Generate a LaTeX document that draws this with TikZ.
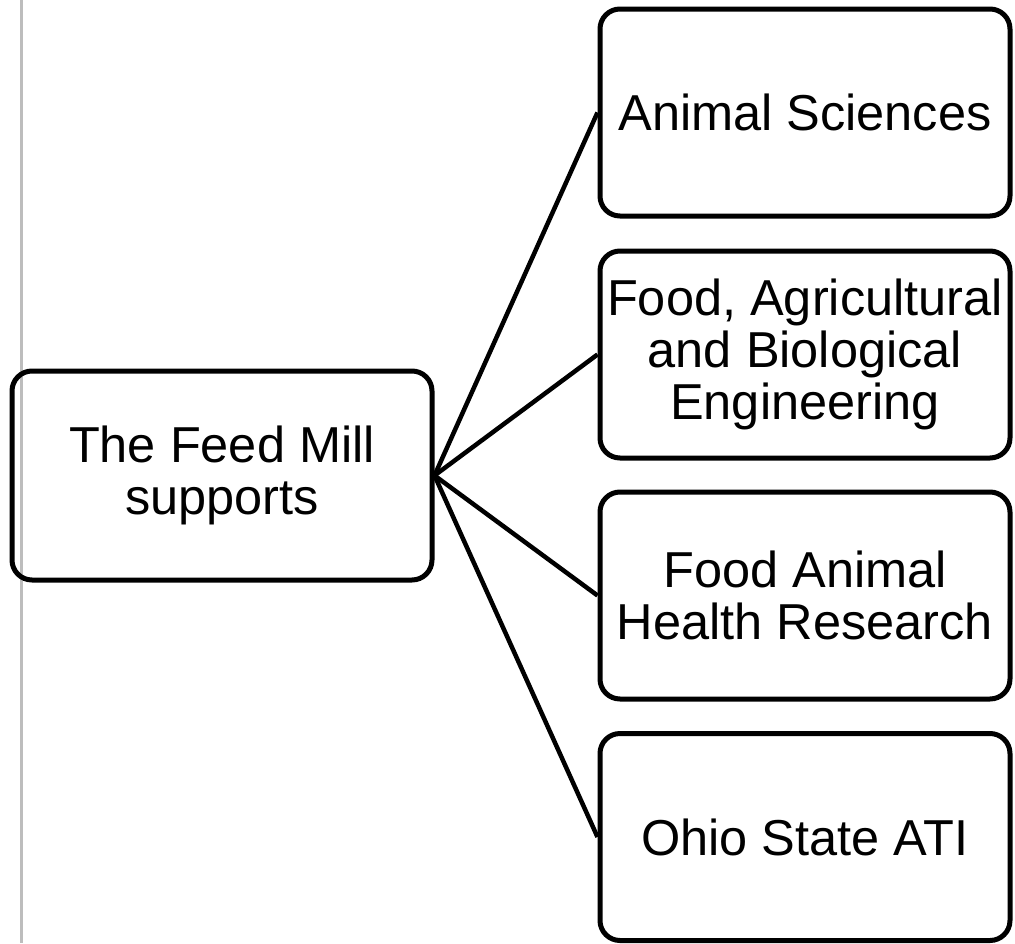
\documentclass[tikz,border=0pt]{standalone}
\usepackage{fontspec}
\setmainfont{Liberation Sans}
\usepackage{tikz}

\begin{document}
\begin{tikzpicture}[x=1pt,y=-1pt,
			unitbox/.style={draw,line width=5pt,rounded corners=20pt,align=center,
				font=\fontsize{50.5}{52}\selectfont,inner sep=0pt},
			link/.style={line width=4.5pt}]
			\useasboundingbox[fill=white] (0,0) rectangle (1015,943);
			\draw[line width=3pt,color={rgb,255:red,189;green,189;blue,189}] (21.5,0) -- (21.5,943);

			\node[unitbox,minimum width=420pt,minimum height=209pt] (mill) at (222,475.5) {The Feed Mill\\supports};

			\node[unitbox,minimum width=410pt,minimum height=207pt] (anisci) at (805,112.5) {Animal Sciences};
			\node[unitbox,minimum width=410pt,minimum height=207pt] (fabe) at (805,354.5) {Food, Agricultural\\and Biological\\Engineering};
			\node[unitbox,minimum width=410pt,minimum height=207pt] (fahr) at (805,595.5) {Food Animal\\Health Research};
			\node[unitbox,minimum width=410pt,minimum height=207pt] (ati) at (805,837) {Ohio State ATI};

			\draw[link] (mill.east) -- (anisci.west);
			\draw[link] (mill.east) -- (fabe.west);
			\draw[link] (mill.east) -- (fahr.west);
			\draw[link] (mill.east) -- (ati.west);
		\end{tikzpicture}
\end{document}
